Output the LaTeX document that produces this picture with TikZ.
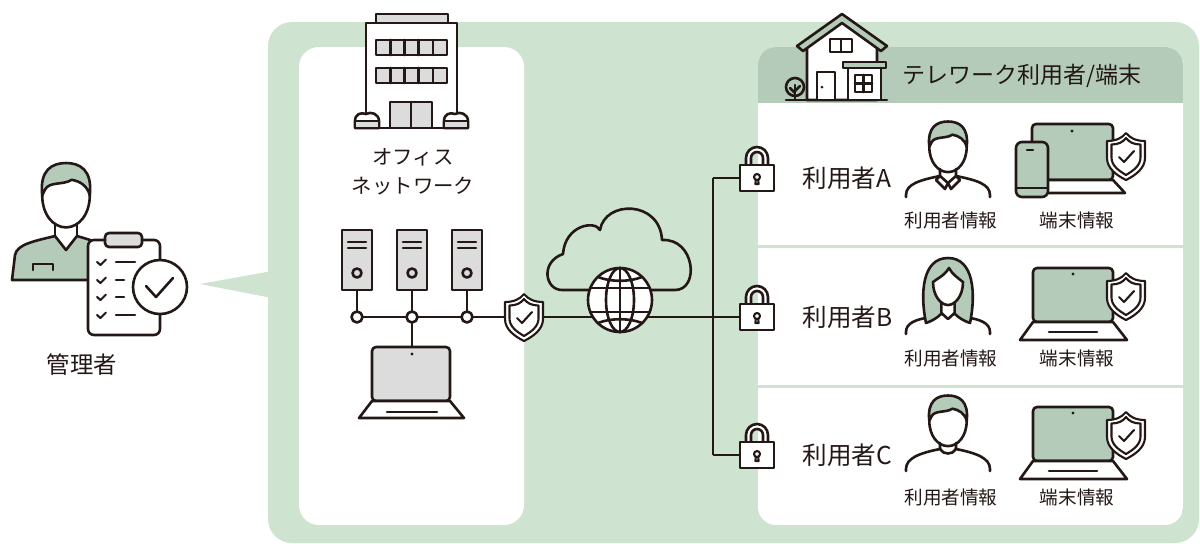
\documentclass[tikz,border=0pt]{standalone}
\usepackage{fontspec}
\setmainfont{Noto Sans CJK JP}
\definecolor{ink}{HTML}{231815}
\definecolor{pale}{HTML}{CFE3D1}
\definecolor{sage}{HTML}{B5CBB9}
\definecolor{lightgrey}{HTML}{DCDCDC}
\tikzset{
  ln/.style={draw=ink,line width=1.3pt,line join=round,line cap=round},
  thin ln/.style={draw=ink,line width=1.05pt,line join=round,line cap=round},
  wire/.style={draw=ink,line width=1.3pt},
  txt/.style={text=ink,inner sep=0pt},
  rowname/.style={txt,anchor=west,font=\fontsize{12.3pt}{14pt}\selectfont},
  info/.style={txt,font=\fontsize{9.3pt}{11pt}\selectfont},
  % shield with a check mark
  shieldicon/.pic={
    \path[thin ln,fill=white] (-19,-15) .. controls (-10,-15) and (-4,-18) .. (0,-23) .. controls (4,-18) and (10,-15) .. (19,-15) -- (19,2) .. controls (19,12) and (10,19) .. (0,24) .. controls (-10,19) and (-19,12) .. (-19,2) -- cycle;
    \path[thin ln] (-14.5,-11.5) .. controls (-7.5,-11.5) and (-3,-14) .. (0,-18) .. controls (3,-14) and (7.5,-11.5) .. (14.5,-11.5) -- (14.5,1.5) .. controls (14.5,9.5) and (7.5,14.5) .. (0,19) .. controls (-7.5,14.5) and (-14.5,9.5) .. (-14.5,1.5) -- cycle;
    \path[thin ln] (-7,1) -- (-2,6) -- (8,-5);
  },
  % padlock, origin at the centre of the body
  lockicon/.pic={
    \path[ln,fill=white] (-11,-12) -- (-11,-20) .. controls (-11,-26.1) and (-6.1,-31) .. (0,-31) .. controls (6.1,-31) and (11,-26.1) .. (11,-20) -- (11,-12) -- (6,-12) -- (6,-20) .. controls (6,-23.3) and (3.3,-26) .. (0,-26) .. controls (-3.3,-26) and (-6,-23.3) .. (-6,-20) -- (-6,-12) -- cycle;
    \path[ln,fill=white] (-17,-13) rectangle (17,13);
    \path[thin ln] (0,-1) circle[radius=3];
    \path[thin ln] (-1.2,2) -- (-1.6,6) -- (1.6,6) -- (1.2,2);
  },
  % globe
  globeicon/.pic={
    \path[ln,fill=white] (0,0) circle[radius=32];
    \path[ln] (0,-32) -- (0,32);
    \path[ln] (0,0) ellipse[x radius=14,y radius=32];
    \path[ln] (-29.7,-12) -- (29.7,-12);
    \path[ln] (-29.7,12) -- (29.7,12);
    \path[ln] (-22,-23) .. controls (-10,-18) and (10,-18) .. (22,-23);
    \path[ln] (-22,23) .. controls (-10,18) and (10,18) .. (22,23);
  },
  % short-haired head, origin at the centre of the face
  manhead/.pic={
    \path[ln,fill=white] (-17,-2) .. controls (-17,12) and (-9,21) .. (0,21) .. controls (9,21) and (17,12) .. (17,-2) .. controls (17,-20) and (-17,-20) .. (-17,-2) -- cycle;
    \path[ln,fill=sage] (-17,-2) .. controls (-19,-20) and (-10,-25) .. (0,-25) .. controls (10,-25) and (19,-20) .. (17,-2) .. controls (15,-9) and (10,-12) .. (4,-13) .. controls (-2,-9) and (-12,-12) .. (-15,-6) -- cycle;
  },
  % user with a collared shirt
  usercollar/.pic={
    \pic[scale=1.1] {manhead};
    \path[ln] (-8,20) -- (-8,27) .. controls (-28,31) and (-42,35) .. (-42,46) -- (-42,48);
    \path[ln] (8,20) -- (8,27) .. controls (28,31) and (42,35) .. (42,46) -- (42,48);
    \path[ln,fill=white] (-8,27) -- (-12,31) -- (-3,40) -- (0,34) -- cycle;
    \path[ln,fill=white] (8,27) -- (12,31) -- (3,40) -- (0,34) -- cycle;
  },
  % user with a round neckline
  userround/.pic={
    \pic[scale=1.1] {manhead};
    \path[ln] (-8,20) -- (-8,26) .. controls (-28,30) and (-42,35) .. (-42,46) -- (-42,48);
    \path[ln] (8,20) -- (8,26) .. controls (28,30) and (42,35) .. (42,46) -- (42,48);
    \path[ln] (-8,26) .. controls (-5,32) and (5,32) .. (8,26);
  },
  % user with long hair
  userlong/.pic={
    \path[ln] (-16,31) .. controls (-32,33) and (-42,37) .. (-42,46) -- (-42,48);
    \path[ln] (16,31) .. controls (32,33) and (42,37) .. (42,46) -- (42,48);
    \path[ln,fill=sage] (-22,37) .. controls (-28,8) and (-26,-28) .. (0,-28) .. controls (26,-28) and (28,8) .. (22,37) .. controls (16,35) and (11,32) .. (7,28) -- (-7,28) .. controls (-11,32) and (-16,35) .. (-22,37) -- cycle;
    \path[fill=white] (-6.6,12) -- (-6.6,27) -- (0,33) -- (6.6,27) -- (6.6,12) -- cycle;
    \path[ln] (-6.6,14) -- (-6.6,27) -- (0,33) -- (6.6,27) -- (6.6,14);
    \path[ln,fill=white] (-15,-4) .. controls (-15,10) and (-7,19) .. (0,19) .. controls (7,19) and (15,10) .. (15,-4) .. controls (10,-8) and (4,-12) .. (1,-18) .. controls (-4,-10) and (-10,-8) .. (-15,-4) -- cycle;
  },
  % green laptop, origin at the middle of the hinge
  greenlaptop/.pic={
    \path[ln,fill=sage,rounded corners=2pt] (-40,-48) rectangle (40,6);
    \fill[ink] (0,-42) circle[radius=1.7];
    \path[ln,fill=white] (-40,6) -- (40,6) -- (54,24) -- (-53,24) -- cycle;
    \path[ln] (-24,16) -- (24,16);
  },
}
\begin{document}
\begin{tikzpicture}[x=0.5pt,y=-0.5pt]
\useasboundingbox (0,0) rectangle (1200,543);

% ---- backdrop panels ----
\fill[pale,rounded corners=12pt] (268,22) rectangle (1199,543);
\fill[pale] (200,284) -- (272,271) -- (272,298) -- cycle;
\fill[white,rounded corners=10pt] (299,47) rectangle (524,525);
\begin{scope}
  \clip[rounded corners=9pt] (758,47) rectangle (1183,525);
  \fill[white] (758,47) rectangle (1183,525);
  \fill[sage] (758,47) rectangle (1183,103);
  \fill[pale] (758,244.5) rectangle (1183,247.5);
  \fill[pale] (758,384.5) rectangle (1183,387.5);
\end{scope}

% ---- administrator ----
\path[ln,fill=sage] (12,280) -- (15,255) .. controls (17,244) and (35,241) .. (55,236) -- (66,250) -- (77,236) .. controls (90,240) and (100,242) .. (105,250) -- (105,280) -- cycle;
\path[ln] (55,222) -- (55,236);
\path[ln] (77,222) -- (77,236);
\path[ln] (33,270) -- (33,264) -- (53,264) -- (53,270);
\pic[scale=1.4] at (66,198) {manhead};
\path[ln,fill=white,rounded corners=3pt] (88,240) rectangle (160,335);
\path[ln,fill=lightgrey,rounded corners=2pt] (105,233) rectangle (142,247);
\foreach \yy/\len in {262/135,280/124,297/124,315/135} {
  \path[thin ln] (97,\yy) -- (100.5,\yy+3) -- (106,\yy-2.5);
  \path[ln] (116,\yy) -- (\len,\yy);
}
\path[ln,fill=white] (160,287) circle[radius=27];
\path[ln] (146,286) -- (156,297) -- (173,278);
\node[txt,font=\fontsize{11.7pt}{14pt}\selectfont] (admin) at (82,365) {管理者};

% ---- office building ----
\path[ln,fill=lightgrey] (376,14) rectangle (448,23);
\path[ln,fill=white] (366,23) rectangle (457,128);
\foreach \r in {40,68} {
  \path[ln,fill=lightgrey] (376,\r) rectangle (447,\r+15);
  \foreach \k in {1,...,4} \path[ln] ({376+14.2*\k},\r) -- ({376+14.2*\k},\r+15);
}
\path[ln,fill=lightgrey] (390,102) rectangle (432,128);
\path[ln] (411,102) -- (411,128);
\foreach \bx in {367,456} {
  \path[ln,fill=white] (\bx-12,128) -- (\bx-12,121) .. controls (\bx-12,114) and (\bx-6,112) .. (\bx-1,114) .. controls (\bx+4,111) and (\bx+12,114) .. (\bx+12,121) -- (\bx+12,128) -- cycle;
  \path[ln,fill=lightgrey] (\bx-12,121) rectangle (\bx+12,128);
}
\node[txt,font=\fontsize{10.2pt}{12pt}\selectfont] (office1) at (413,157) {オフィス};
\node[txt,font=\fontsize{10.2pt}{12pt}\selectfont] (office2) at (413,186) {ネットワーク};

% ---- office network ----
\coordinate (j1) at (357,317);
\coordinate (j2) at (412,317);
\coordinate (j3) at (467,317);
\coordinate (s1) at (357,290);
\coordinate (s2) at (412,290);
\coordinate (s3) at (467,290);
\coordinate (lt) at (412,347);
\coordinate (fw) at (524,317);
\coordinate (hubA) at (713,178);
\coordinate (hubB) at (713,317);
\coordinate (hubC) at (713,455);
\coordinate (lockA) at (757,178);
\coordinate (lockB) at (757,317);
\coordinate (lockC) at (757,455);

\draw[wire] (s1) -- (j1);
\draw[wire] (s2) -- (j2);
\draw[wire] (s3) -- (j3);
\draw[wire] (j2) -- (lt);
\draw[wire] (j1) -- (j3) -- (fw) -- (hubB);
\draw[wire] (hubA) -- (hubC);
\draw[wire] (hubA) -- (lockA);
\draw[wire] (hubB) -- (lockB);
\draw[wire] (hubC) -- (lockC);

\foreach \cx in {357,412,467} {
  \path[ln,fill=lightgrey] (\cx-15,230) rectangle (\cx+15,290);
  \path[ln] (\cx-9,242) -- (\cx+9,242);
  \path[ln] (\cx-9,248) -- (\cx+9,248);
  \path[ln] (\cx,273) circle[radius=4.5];
  \path[ln,fill=white] (\cx,317) circle[radius=5.5];
}
\path[ln,fill=lightgrey,rounded corners=2pt] (372,347) rectangle (450,401);
\fill[ink] (412,354) circle[radius=1.7];
\path[ln,fill=white] (372,401) -- (450,401) -- (464,418) -- (359,418) -- cycle;
\path[ln] (387,412) -- (437,412);
\pic at (fw) {shieldicon};

% ---- internet ----
\path[ln] (562,290) .. controls (545,290) and (540,262) .. (563,254) .. controls (565,225) and (595,220) .. (600,230) .. controls (605,200) and (660,200) .. (662,240) .. controls (695,238) and (700,290) .. (675,290) -- cycle;
\pic at (620,300) {globeicon};

% ---- remote users ----
\pic at (lockA) {lockicon};
\pic at (lockB) {lockicon};
\pic at (lockC) {lockicon};

% house
\path[ln,fill=white] (807,100) -- (807,41) -- (842,19) -- (877,41) -- (877,100) -- cycle;
\path[ln,fill=sage] (797,46) -- (842,14) -- (887,46) -- (881,51) -- (842,23) -- (803,51) -- cycle;
\path[ln,fill=white] (830,39) rectangle (852,52);
\path[ln] (841,39) -- (841,52);
\path[ln,fill=white] (817,72) rectangle (835,100);
\fill[ink] (822,87) circle[radius=1.5];
\path[ln,fill=white] (848,68) rectangle (881,100);
\path[ln,fill=sage] (843,62) rectangle (886,68);
\path[ln,fill=white] (855,75) rectangle (872,92);
\path[ln] (863.5,75) -- (863.5,92);
\path[ln] (855,83.5) -- (872,83.5);
\path[ln] (786,100) -- (887,100);
\path[ln] (795,87) circle[radius=9];
\path[ln] (795,100) -- (795,85);
\path[ln] (795,93) -- (790,88);
\path[ln] (795,91) -- (800,86);
\node[txt,anchor=west,font=\fontsize{11.5pt}{14pt}\selectfont] (title) at (902,76) {テレワーク利用者/端末};

% row A
\node[rowname] (userA) at (802,178) {利用者A};
\pic at (948,149) {usercollar};
\node[info] (infoA1) at (951,220) {利用者情報};
\path[ln,fill=sage,rounded corners=2pt] (1032,124) rectangle (1113,180);
\fill[ink] (1072,131) circle[radius=1.7];
\path[ln,fill=white] (1032,180) -- (1113,180) -- (1125,193) -- (1020,193) -- cycle;
\path[ln,fill=sage,rounded corners=3pt] (1016,142) rectangle (1048,197);
\path[ln] (1016,188) -- (1048,188);
\path[ln] (1027,150) -- (1033,150);
\pic at (1126,156) {shieldicon};
\node[info] (infoA2) at (1077,220) {端末情報};

% row B
\node[rowname] (userB) at (802,317) {利用者B};
\pic at (948,286) {userlong};
\node[info] (infoB1) at (951,358) {利用者情報};
\pic at (1073,316) {greenlaptop};
\pic at (1126,296) {shieldicon};
\node[info] (infoB2) at (1077,358) {端末情報};

% row C
\node[rowname] (userC) at (802,455) {利用者C};
\pic at (948,423) {userround};
\node[info] (infoC1) at (951,497) {利用者情報};
\pic at (1073,455) {greenlaptop};
\pic at (1126,435) {shieldicon};
\node[info] (infoC2) at (1077,497) {端末情報};
\end{tikzpicture}
\end{document}
